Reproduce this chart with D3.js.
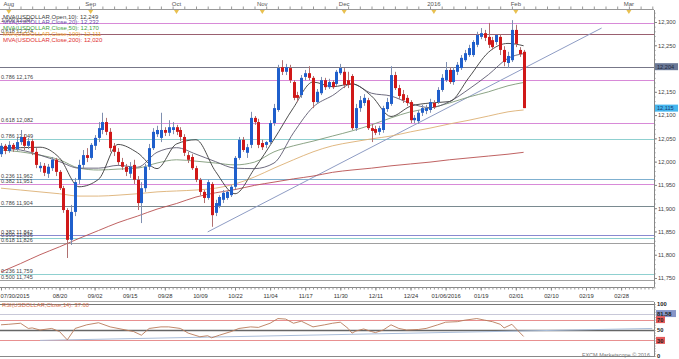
<!DOCTYPE html>
<html>
<head>
<meta charset="utf-8">
<script src="https://cdn.jsdelivr.net/npm/d3@7"></script>
<style>
body { margin: 0; background: #fff; }
svg text { font-family: "Liberation Sans", Arial, sans-serif; }
</style>
</head>
<body>
<svg id="chart" width="679" height="359"></svg>
<script>
var w = 679, h = 359;
var plotRight = 654, mainTop = 10, mainBottom = 287, rsiTop = 302, rsiBottom = 357;
var barStep = 3.9;

// Candles, one per trading day from 07/30/2015 to 02/03/2016
var openVals = [12016,12034,12023,12036,12027,12042,12053,12034,12044,12021,
  11986,11991,11974,11986,12004,11978,11943,11896,11832,11892,
  11961,11993,12014,12008,12034,12051,12068,12085,12064,12034,
  12021,11999,11989,11974,11993,11961,11911,11943,11989,12029,
  12059,12051,12068,12062,12068,12074,12068,12053,12014,12010,
  11986,11961,11935,11922,11952,11890,11905,11918,11922,11928,
  11946,12008,12047,12019,12036,12094,12085,12040,12036,12042,
  12083,12111,12203,12193,12201,12171,12143,12143,12182,12190,
  12180,12128,12147,12175,12160,12171,12167,12190,12193,12175,
  12184,12072,12115,12126,12132,12072,12070,12064,12068,12113,
  12124,12186,12158,12145,12137,12128,12089,12087,12105,12109,
  12111,12126,12128,12154,12175,12197,12171,12193,12201,12218,
  12229,12229,12251,12268,12276,12268,12261,12257,12268,12240,
  12212,12218,12283,12240,12236];
var highVals = [12040,12038,12044,12040,12051,12068,12059,12051,12049,12029,
  11999,11997,11995,12010,12008,11982,11948,11900,11907,11965,
  12004,12025,12029,12040,12057,12085,12105,12094,12072,12040,
  12029,12008,11995,11999,12004,11969,11956,11995,12038,12072,
  12077,12105,12074,12089,12085,12079,12074,12059,12021,12016,
  11991,11965,11939,11961,11956,11918,11928,11939,11937,11950,
  12012,12053,12053,12038,12107,12098,12092,12047,12044,12089,
  12124,12208,12218,12210,12208,12175,12150,12186,12197,12205,
  12184,12156,12182,12180,12178,12175,12197,12210,12201,12193,
  12188,12124,12141,12145,12137,12081,12077,12077,12120,12137,
  12205,12193,12165,12154,12143,12132,12100,12111,12122,12122,
  12135,12132,12160,12188,12214,12203,12203,12214,12229,12240,
  12251,12261,12279,12287,12283,12298,12268,12272,12274,12248,
  12236,12304,12294,12246,12240];
var lowVals = [12010,12016,12019,12021,12023,12036,12025,12027,12014,11986,
  11978,11969,11965,11980,11969,11939,11890,11793,11821,11883,
  11952,11986,11999,12004,12025,12042,12059,12057,12021,12012,
  11993,11982,11969,11965,11952,11896,11868,11935,11982,12025,
  12053,12042,12055,12055,12059,12057,12044,12012,11997,11982,
  11956,11928,11911,11918,11860,11883,11900,11911,11918,11924,
  11941,12004,12021,12008,12029,12079,12029,12025,12029,12036,
  12077,12107,12186,12186,12169,12132,12128,12137,12175,12175,
  12115,12124,12143,12154,12156,12156,12163,12186,12158,12158,
  12068,12066,12107,12120,12068,12042,12057,12057,12062,12107,
  12120,12154,12135,12126,12120,12083,12083,12081,12098,12102,
  12105,12113,12124,12150,12171,12167,12165,12186,12197,12214,
  12225,12225,12246,12263,12259,12244,12240,12251,12229,12205,
  12201,12214,12246,12225,12115];
var closeVals = [12034,12023,12036,12027,12042,12053,12034,12044,12021,11993,
  11991,11976,11989,12004,11978,11943,11896,11832,11892,11956,
  11993,12014,12008,12036,12051,12072,12085,12064,12029,12021,
  11999,11989,11978,11989,11961,11911,11943,11989,12029,12064,
  12068,12068,12062,12074,12074,12064,12053,12019,12004,11986,
  11961,11935,11922,11956,11885,11911,11924,11933,11935,11946,
  12008,12047,12025,12031,12094,12085,12036,12031,12042,12083,
  12115,12201,12193,12203,12175,12137,12137,12180,12190,12180,
  12128,12150,12175,12160,12171,12160,12193,12201,12165,12165,
  12072,12115,12132,12137,12072,12066,12062,12072,12115,12128,
  12186,12158,12141,12132,12126,12089,12094,12105,12115,12115,
  12128,12117,12154,12180,12197,12171,12197,12208,12223,12233,
  12244,12257,12272,12276,12266,12251,12246,12272,12240,12214,
  12227,12283,12253,12231,12115];

// Moving averages, read at every 5th bar
var maIdx = [0,5,10,15,20,25,30,35,40,45,50,55,60,65,70,75,80,85,90,95,100,105,110,115,120,125,130,134];
var ma10 = [12030,12030,12031,12008,11946,11962,12037,12019,11985,12038,12047,11979,11931,11985,12048,12116,12171,12161,12167,12141,12097,12119,12126,12129,12181,12235,12254,12249];
var ma20 = [12029,12025,12014,12000,11986,11986,11992,11988,12020,12030,12016,12000,11986,11985,11997,12062,12117,12142,12167,12147,12141,12125,12116,12129,12156,12187,12222,12232];
var ma50 = [12025,12021,12014,12004,11986,11982,11984,11986,11997,12004,12001,11997,11993,11999,12021,12034,12044,12055,12066,12079,12094,12107,12115,12126,12139,12150,12163,12170];
var ma100 = [11943,11939,11935,11931,11926,11926,11928,11931,11935,11937,11939,11943,11952,11967,11986,12004,12021,12034,12042,12049,12055,12064,12072,12081,12089,12098,12107,12111];
var ma200 = [11763,11781,11800,11817,11835,11852,11869,11883,11898,11910,11924,11933,11940,11949,11956,11963,11969,11977,11982,11986,11991,11995,11999,12004,12008,12012,12016,12020];

var legendText = ["MVA(USDOLLAR,Open,10): 12,249", "MVA(USDOLLAR,Close,20): 12,232",
  "MVA(USDOLLAR,Close,50): 12,170", "MVA(USDOLLAR,Close,100): 12,111", "MVA(USDOLLAR,Close,200): 12,020"];

// RSI(14)
var rsiIdx = [0,2,5,7,8,10,13,15,17,19,22,25,28,30,34,36,38,41,43,46,48,51,53,54,56,59,61,64,66,69,71,73,75,77,80,83,85,87,89,90,91,93,95,96,98,100,102,104,107,109,112,114,117,119,122,124,126,128,129,131,132,134];
var rsiVals = [60,61,63,53,54,50,53,47,31,53,60,64,56,53,47,40,53,56,56,53,44,37,39,35,40,47,53,56,55,63,72,71,63,67,56,60,63,65,53,44,48,52,47,45,50,60,53,50,51,53,60,65,66,69,72,69,66,61,54,61,53,37.6];

// Fibonacci levels
var fibRatios = ["1.000","0.618","0.786","0.618","0.786","0.236","0.382","0.786","0.382","0.500","0.618","0.236","0.500"];
var fibValues = [12297,12274,12176,12082,12049,11962,11951,11904,11842,11836,11826,11759,11745];
var fibColors = ["#d88ad8","#9a6070","#d88ad8","#d88ad8","#8fd0d0","#7fb0d0","#d88ad8","#7a8a90","#8a8ad0","#8fd0d0","#a0a0a0","#8fd0d0","#a0a0a0"];
var markerPrice = 12204, lastClose = 12115;

// Axis labels
var monthDates = ["2015-08-03","2015-09-01","2015-10-01","2015-11-02","2015-12-01","2016-01-01","2016-02-01","2016-03-01"];
var monthLabels = ["Aug","Sep","Oct","Nov","Dec","2016","Feb","Mar"];
var tickDates = ["2015-07-30","2015-08-20","2015-09-02","2015-09-15","2015-09-28","2015-10-09","2015-10-22","2015-11-04","2015-11-17","2015-11-30","2015-12-11","2015-12-24","2016-01-06","2016-01-19","2016-02-01","2016-02-10","2016-02-19","2016-02-28"];
var tickLabels = ["07/30/2015","08/20","09/02","09/15","09/28","10/09","10/22","11/04","11/17","11/30","12/11","12/24","01/06/2016","01/19","02/01","02/10","02/19","02/28"];

// Trend lines [date, value]
var trendMain = [["2015-10-13", 11849], ["2016-02-23", 12287]];
var trendRsi = [["2015-08-13", 30], ["2016-03-07", 53]];

// trading days then calendar days to the right edge
var fmt = d3.timeFormat("%Y-%m-%d");
var lastBar = new Date(2016, 1, 3);
var barDates = d3.timeDay.range(new Date(2015, 6, 30), d3.timeDay.offset(lastBar, 1))
  .filter(function(d) { return d.getDay() !== 0 && d.getDay() !== 6; })
  .map(fmt);
var futureDates = d3.timeDay.range(d3.timeDay.offset(lastBar, 1), new Date(2016, 2, 8)).map(fmt);
var allDates = barDates.concat(futureDates);

var xScale = d3.scalePoint()
  .domain(allDates)
  .range([1, 1 + (allDates.length - 1) * barStep]);

var yScale = d3.scaleLinear()
  .domain([11750, 12300])
  .range([278, 22]);

var rsiScale = d3.scaleLinear()
  .domain([0, 100])
  .range([356, 304]);

var svg = d3.select("#chart");

svg.append("clipPath").attr("id", "main-area")
  .append("rect").attr("x", 0).attr("y", mainTop).attr("width", plotRight).attr("height", mainBottom - mainTop);
svg.append("clipPath").attr("id", "rsi-area")
  .append("rect").attr("x", 0).attr("y", rsiTop).attr("width", plotRight).attr("height", rsiBottom - rsiTop);

var main = svg.append("g").attr("clip-path", "url(#main-area)");

// Fib lines
main.selectAll(".fib")
  .data(fibValues)
  .enter()
  .append("line")
  .attr("x1", 0).attr("x2", plotRight)
  .attr("y1", function(d) { return Math.round(yScale(d)) + 0.5; })
  .attr("y2", function(d) { return Math.round(yScale(d)) + 0.5; })
  .attr("stroke", function(d, i) { return fibColors[i]; })
  .attr("stroke-width", 1);

main.append("line")
  .attr("x1", 0).attr("x2", plotRight)
  .attr("y1", Math.round(yScale(markerPrice)) + 0.5)
  .attr("y2", Math.round(yScale(markerPrice)) + 0.5)
  .attr("stroke", "#777788");

main.selectAll(".fibLabel")
  .data(fibValues)
  .enter()
  .append("text")
  .attr("x", 1)
  .attr("y", function(d) { return yScale(d) - 1; })
  .attr("font-size", 5.5)
  .attr("fill", "#444")
  .text(function(d, i) { return fibRatios[i] + " " + d3.format(",")(d); });

// Trend line
main.append("line")
  .attr("x1", xScale(trendMain[0][0])).attr("y1", yScale(trendMain[0][1]))
  .attr("x2", xScale(trendMain[1][0])).attr("y2", yScale(trendMain[1][1]))
  .attr("stroke", "#8e9cc4")
  .attr("stroke-width", 1);

// Moving averages
function maLine(vals) {
  return d3.line()
    .x(function(d, i) { return xScale(barDates[maIdx[i]]); })
    .y(function(d) { return yScale(d); })
    .curve(d3.curveMonotoneX)(vals);
}
var maSeries = [ma200, ma100, ma50, ma20, ma10];
var maColors = ["#b85050", "#ddb074", "#7f9a78", "#5e5a70", "#3a3a3a"];
main.selectAll(".ma")
  .data(maSeries)
  .enter()
  .append("path")
  .attr("d", maLine)
  .attr("fill", "none")
  .attr("stroke", function(d, i) { return maColors[i]; })
  .attr("stroke-width", 0.9);

// Candles
var candles = barDates.map(function(d, i) {
  return { date: d, o: openVals[i], h: highVals[i], l: lowVals[i], c: closeVals[i] };
});
var candleG = main.append("g");
candleG.selectAll(".wick")
  .data(candles)
  .enter()
  .append("line")
  .attr("x1", function(d) { return Math.round(xScale(d.date)) + 0.5; })
  .attr("x2", function(d) { return Math.round(xScale(d.date)) + 0.5; })
  .attr("y1", function(d) { return yScale(d.h); })
  .attr("y2", function(d) { return yScale(d.l); })
  .attr("stroke", function(d) { return d.c >= d.o ? "#7f8fb0" : "#b07070"; })
  .attr("stroke-width", 1);
candleG.selectAll(".body")
  .data(candles)
  .enter()
  .append("rect")
  .attr("x", function(d) { return Math.round(xScale(d.date)) - 1; })
  .attr("width", 3)
  .attr("y", function(d) { return yScale(Math.max(d.o, d.c)); })
  .attr("height", function(d) { return Math.max(1, Math.abs(yScale(d.o) - yScale(d.c))); })
  .attr("fill", function(d) { return d.c >= d.o ? "#1f5fcc" : "#d01818"; });

// Legend
var legendColors = ["#404040", "#6a4aa8", "#3f9f3f", "#f0a030", "#e03030"];
svg.selectAll(".legend")
  .data(legendText)
  .enter()
  .append("text")
  .attr("x", 3)
  .attr("y", function(d, i) { return 18.5 + i * 5.8; })
  .attr("font-size", 6)
  .attr("fill", function(d, i) { return legendColors[i]; })
  .text(function(d) { return d; });

// Top axis with month markers
var topAxis = d3.axisTop(xScale)
  .tickValues(allDates.filter(function(d, i) { return i % 3 === 2; }))
  .tickSize(3)
  .tickFormat("");
svg.append("g")
  .attr("transform", "translate(0,9.5)")
  .call(topAxis)
  .call(function(g) {
    g.select(".domain").attr("stroke", "#999").attr("d", "M0,0H" + plotRight);
    g.selectAll(".tick line").attr("stroke", "#999");
  });
svg.selectAll(".monthMark")
  .data(monthDates)
  .enter()
  .append("path")
  .attr("d", function(d) {
    var x = xScale(d);
    return "M" + (x - 2.5) + ",10L" + (x + 2.5) + ",10L" + x + ",14Z";
  })
  .attr("fill", "#e8c050");
svg.selectAll(".monthLabel")
  .data(monthDates)
  .enter()
  .append("text")
  .attr("x", function(d) { return xScale(d); })
  .attr("y", 5.5)
  .attr("text-anchor", "middle")
  .attr("font-size", 6)
  .attr("fill", "#555")
  .text(function(d, i) { return monthLabels[i]; });

// Right price axis (the 12,200 label sits under the marker box)
var yAxis = d3.axisRight(yScale)
  .tickValues(d3.range(11750, 12301, 50))
  .tickSize(3)
  .tickFormat(function(d) { return d === 12200 ? "" : d3.format(",")(d); });
var yMinor = d3.axisRight(yScale)
  .tickValues(d3.range(11730, 12330, 10))
  .tickSize(1.5)
  .tickFormat("");
svg.append("g")
  .attr("transform", "translate(" + plotRight + ",0)")
  .call(yMinor)
  .call(function(g) {
    g.select(".domain").attr("stroke", "#888").attr("d", "M0.5," + mainTop + "V" + mainBottom);
    g.selectAll(".tick line").attr("stroke", "#888");
  });
svg.append("g")
  .attr("transform", "translate(" + plotRight + ",0)")
  .call(yAxis)
  .call(function(g) {
    g.select(".domain").remove();
    g.selectAll(".tick line").attr("stroke", "#888");
    g.selectAll(".tick text").attr("font-size", 5.8).attr("fill", "#444").attr("x", 4);
  });

function priceBox(v, fill, color) {
  var y = yScale(v);
  svg.append("rect").attr("x", plotRight + 1).attr("y", y - 3.5).attr("width", 23).attr("height", 7).attr("fill", fill);
  svg.append("text").attr("x", plotRight + 3).attr("y", y + 2).attr("font-size", 5.6).attr("fill", color)
    .text(d3.format(",")(v));
}
priceBox(markerPrice, "#6a7896", "#1c2840");
priceBox(lastClose, "#46b6ee", "#183c70");

// Bottom date axis
var xMinor = d3.axisBottom(xScale).tickValues(allDates).tickSize(2).tickFormat("");
svg.append("g")
  .attr("transform", "translate(0," + (mainBottom + 0.5) + ")")
  .call(xMinor)
  .call(function(g) {
    g.select(".domain").attr("stroke", "#888").attr("d", "M0,0H" + plotRight);
    g.selectAll(".tick line").attr("stroke", "#999");
  });
var xAxis = d3.axisBottom(xScale)
  .tickValues(tickDates)
  .tickSize(3)
  .tickFormat(function(d, i) { return tickLabels[i]; });
svg.append("g")
  .attr("transform", "translate(0," + (mainBottom + 0.5) + ")")
  .call(xAxis)
  .call(function(g) {
    g.select(".domain").remove();
    g.selectAll(".tick line").attr("stroke", "#888");
    g.selectAll(".tick text").attr("font-size", 5.8).attr("fill", "#333").attr("y", 6);
    g.select(".tick text").attr("text-anchor", "start").attr("x", -1);
  });

// RSI panel
var rsiG = svg.append("g").attr("clip-path", "url(#rsi-area)");
svg.append("line").attr("x1", 0).attr("x2", plotRight).attr("y1", rsiTop - 0.5).attr("y2", rsiTop - 0.5).attr("stroke", "#aaa");
var rsiLevels = [100, 81.58, 70, 50, 30, 0];
var rsiLevelColors = ["#777", "#c8c8d8", "#e89090", "#666", "#e89090", "#888"];
rsiG.selectAll(".lvl")
  .data(rsiLevels)
  .enter()
  .append("line")
  .attr("x1", 0).attr("x2", plotRight)
  .attr("y1", function(d) { return Math.round(rsiScale(d)) + 0.5; })
  .attr("y2", function(d) { return Math.round(rsiScale(d)) + 0.5; })
  .attr("stroke", function(d, i) { return rsiLevelColors[i]; })
  .attr("stroke-width", function(d) { return d === 50 ? 1.3 : 1; });

rsiG.append("line")
  .attr("x1", xScale(trendRsi[0][0])).attr("y1", rsiScale(trendRsi[0][1]))
  .attr("x2", xScale(trendRsi[1][0])).attr("y2", rsiScale(trendRsi[1][1]))
  .attr("stroke", "#a8bcd8").attr("stroke-width", 1);

var rsiLine = d3.line()
  .x(function(d, i) { return xScale(barDates[rsiIdx[i]]); })
  .y(function(d) { return rsiScale(d); });
rsiG.append("path")
  .attr("d", rsiLine(rsiVals))
  .attr("fill", "none")
  .attr("stroke", "#b87a5a")
  .attr("stroke-width", 0.9);

svg.append("text")
  .attr("x", 2).attr("y", 307)
  .attr("font-size", 5.8)
  .attr("fill", "#d8704a")
  .text("RSI(USDOLLAR,Close,14): " + d3.format(".2f")(rsiVals[rsiVals.length - 1]));

var rsiAxis = d3.axisRight(rsiScale).tickValues(d3.range(0, 101, 5)).tickSize(1.5).tickFormat("");
svg.append("g")
  .attr("transform", "translate(" + plotRight + ",0)")
  .call(rsiAxis)
  .call(function(g) {
    g.select(".domain").attr("stroke", "#888").attr("d", "M0.5," + rsiTop + "V" + rsiBottom);
    g.selectAll(".tick line").attr("stroke", "#888");
  });

var rsiTickVals = [100, 81.58, 70, 50, 30, 0];
var rsiTickText = ["100", "81.58", "70", "50", "30", "0"];
var rsiBoxFill = [null, "#8896c8", "#e45a5a", null, "#e45a5a", null];
rsiTickVals.forEach(function(v, i) {
  var y = rsiScale(v);
  if (rsiBoxFill[i]) {
    svg.append("rect").attr("x", plotRight + 2).attr("y", y - 3.5)
      .attr("width", i === 1 ? 20 : 9).attr("height", 7).attr("fill", rsiBoxFill[i]);
  }
  svg.append("text").attr("x", plotRight + 3).attr("y", y + 2.2)
    .attr("font-size", 5.8).attr("font-weight", "bold").attr("fill", "#222")
    .text(rsiTickText[i]);
});

svg.append("text")
  .attr("x", plotRight - 4).attr("y", 357)
  .attr("text-anchor", "end")
  .attr("font-size", 5.5)
  .attr("fill", "#777")
  .text("FXCM Marketscope \u00a9 2016");
</script>
</body>
</html>
